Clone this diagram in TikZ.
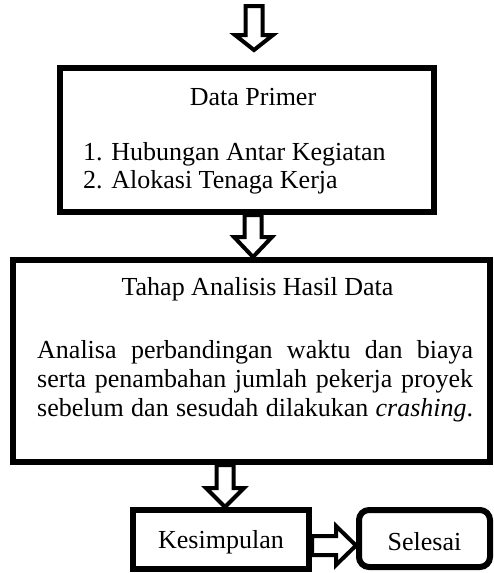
\documentclass[tikz,border=0pt]{standalone}
\usepackage{fontspec}
\setmainfont{Liberation Serif}
\usetikzlibrary{calc,positioning}

% hollow block arrows: start, tip, head length
\newcommand{\blockdown}[3]{%
  \draw[blockarr] ($(#1)+(-8.5,0)$) -- ($(#2)+(-8.5,-#3)$) -- ($(#2)+(-19,-#3)$) -- (#2)
    -- ($(#2)+(19,-#3)$) -- ($(#2)+(8.5,-#3)$) -- ($(#1)+(8.5,0)$) -- cycle;}
\newcommand{\blockright}[3]{%
  \draw[blockarr] ($(#1)+(0,-9.5)$) -- ($(#2)+(-#3,-9.5)$) -- ($(#2)+(-#3,-19.5)$) -- (#2)
    -- ($(#2)+(-#3,19.5)$) -- ($(#2)+(-#3,9.5)$) -- ($(#1)+(0,9.5)$) -- cycle;}

\begin{document}
\begin{tikzpicture}[
  x=1pt,y=-1pt,
  frame/.style={draw,line width=6pt,inner sep=0pt},
  endbox/.style={frame,rounded corners=10pt},
  lbl/.style={inner sep=0pt,font=\fontsize{26}{29}\selectfont},
  blockarr/.style={draw,fill=white,line width=4pt,line join=miter}
]
\useasboundingbox (0,0) rectangle (493,573);
% boxes
\node[frame,minimum width=374pt,minimum height=144pt] (primer) at (247,140) {};
\node[frame,minimum width=477pt,minimum height=202pt] (analisis) at (251.5,361) {};
\node[frame,lbl,text height=20pt,text depth=3pt,minimum width=176pt,minimum height=59pt] (simpulan) at (221,539.5) {Kesimpulan};
\node[endbox,lbl,text height=23pt,text depth=0pt,minimum width=131pt,minimum height=57pt] (selesai) at (424.5,538.5) {Selesai};
% texts
\node[lbl,anchor=base] (primerhead) at (253,105) {Data Primer};
\node[lbl,anchor=base west] (item1) at (83,160) {1. Hubungan Antar Kegiatan};
\node[lbl,anchor=base west] (item2) at (83,188) {2. Alokasi Tenaga Kerja};
\node[lbl,anchor=base] (analisishead) at (257.5,295) {Tahap Analisis Hasil Data};
\node[lbl,anchor=base west] (analisistext) at (37,358) {\parbox[t]{436pt}{\parfillskip=0pt
  Analisa perbandingan waktu dan biaya\linebreak
  serta penambahan jumlah pekerja proyek\linebreak
  sebelum dan sesudah dilakukan \textit{crashing}.}};
% arrows
\coordinate (inStart) at (254,6);
\coordinate (inTip) at (254,50);
\blockdown{inStart}{inTip}{15}
\path (primer.south) ++(6,0) coordinate (a2s);
\coordinate (a2t) at (a2s |- analisis.north);
\blockdown{a2s}{a2t}{20}
\path (analisis.south) ++(-26.5,0) coordinate (a3s);
\coordinate (a3t) at (a3s |- simpulan.north);
\blockdown{a3s}{a3t}{19}
\path (simpulan.east) ++(0,6) coordinate (a4s);
\coordinate (a4t) at (a4s -| selesai.west);
\blockright{a4s}{a4t}{20}
\end{tikzpicture}
\end{document}
